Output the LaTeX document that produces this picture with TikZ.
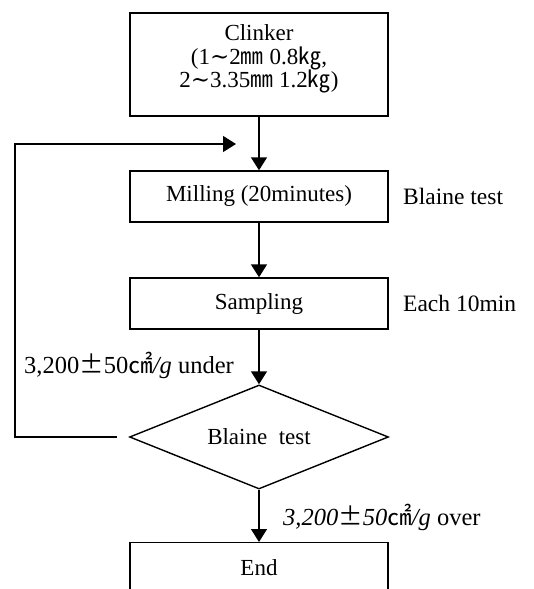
\documentclass[tikz,border=0pt]{standalone}
\usepackage{fontspec}
\setmainfont{Liberation Serif}
\newfontfamily\cjk{Noto Sans CJK KR}
\newfontfamily\dv{DejaVu Serif}
\usetikzlibrary{shapes.geometric,arrows.meta}
\tikzset{
  box/.style={draw,line width=1.4pt,rectangle,minimum width=258pt,inner sep=0pt,align=center,font=\fontsize{23}{23.5}\selectfont},
  txt/.style={inner sep=0pt,align=center,font=\fontsize{23}{23.5}\selectfont},
  dec/.style={draw,line width=1.4pt,diamond,aspect=2.5,minimum width=259pt,minimum height=104pt,inner sep=0pt,font=\fontsize{23}{24}\selectfont},
  lbl/.style={inner sep=0pt,anchor=west,font=\fontsize{23.5}{24}\selectfont},
  cond/.style={inner sep=0pt,anchor=west,font=\fontsize{24.5}{25}\selectfont},
  conn/.style={line width=1.4pt,-{Triangle[width=16pt,length=13pt]}}
}
\begin{document}
\begin{tikzpicture}[x=1pt,y=-1pt]
\useasboundingbox (0,0) rectangle (534,589);
\clip (0,0) rectangle (534,589);
\node[box,minimum height=103pt] (clinker) at (259,64.5) {};
\node[txt] (clinkertxt) at (259,59) {Clinker\\(1{\dv ∼}2{\cjk ㎜} 0.8{\cjk ㎏},\\2{\dv ∼}3.35{\cjk ㎜} 1.2{\cjk ㎏})};
\node[box,minimum height=51pt] (milling) at (259,196.5) {Milling (20minutes)};
\node[box,minimum height=51pt] (sampling) at (259,303.5) {Sampling};
\node[dec] (blaine) at (259,437) {Blaine\ \ test};
\node[box,minimum height=100pt,anchor=north] (end) at (259,542) {};
\node[txt] (endtxt) at (259,568) {End};
\node[lbl] (bt) at (403,196) {Blaine test};
\node[lbl] (each) at (403,303) {Each 10min};
\node[cond] (under) at (24,365) {3,200{\cjk ±}50{\cjk ㎠}\textit{/g} under};
\node[cond] (over) at (283,517) {\textit{3,200}{\cjk ±}\textit{50}{\cjk ㎠}\textit{/g} over};
\coordinate (fb0) at (117,437);
\coordinate (fb1) at (15,437);
\coordinate (fb2) at (15,144);
\coordinate (fb3) at (236,144);
\draw[conn] (clinker.south) -- (milling.north);
\draw[conn] (milling.south) -- (sampling.north);
\draw[conn] (sampling.south) -- (blaine.north);
\draw[conn] (blaine.south) -- (end.north);
\draw[conn] (fb0) -- (fb1) -- (fb2) -- (fb3);
\end{tikzpicture}
\end{document}
